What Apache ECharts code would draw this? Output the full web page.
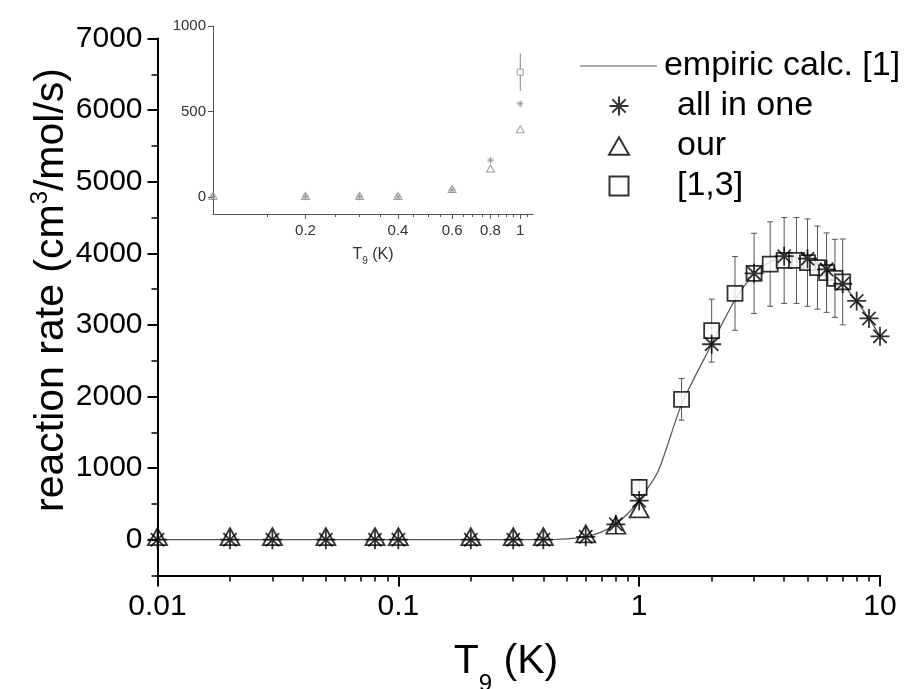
<!DOCTYPE html>
<html><head><meta charset="utf-8">
<script src="https://cdn.jsdelivr.net/npm/echarts@6/dist/echarts.min.js"></script>
<style>html,body{margin:0;padding:0;background:#fff}#c{width:911px;height:689px}</style>
</head><body><div id="c"></div>
<script>
// ---- data ----
const allInOneT = [0.01,0.02,0.03,0.05,0.08,0.1,0.2,0.3,0.4,0.6,0.8,1,2,3,4,5,6,7,8,9,10];
const allInOneV = [0,0,0,0,0,0,0,0,0,40,215,545,2730,3720,3960,3925,3775,3575,3335,3090,2840];
const ourT = [0.01,0.02,0.03,0.05,0.08,0.1,0.2,0.3,0.4,0.6,0.8,1];
const ourV = [0,0,0,0,0,0,0,0,0,40,160,390];
const refT = [1,1.5,2,2.5,3,3.5,4,4.5,5,5.5,6,6.5,7];
const refV = [730,1960,2920,3440,3720,3850,3900,3900,3870,3800,3730,3650,3600];
const refErr = [110,290,440,515,560,590,600,600,610,580,555,545,600];
const empT = [0.01,0.1,0.3,0.4,0.45,0.5,0.6,0.7,0.8,0.9,1,1.2,1.5,2,2.5,3,3.5,4,5,6,7,8,9,10];
const empV = [0,0,0,0,3,12,40,110,220,370,550,960,1890,2730,3350,3710,3880,3950,3920,3780,3570,3330,3090,2840];
const xMajorTicks = [0.01,0.1,1,10];
const xMinorMult = [2,3,4,5,6,7,8,9];
const yMajorTicks = [0,1000,2000,3000,4000,5000,6000,7000];
const yMinorTicks = [-500,500,1500,2500,3500,4500,5500,6500];
const insetXLabels = [0.2,0.4,0.6,0.8,1];
const insetXMinor = [0.15,0.25,0.3,0.35,0.45,0.5,0.55,0.65,0.7,0.75,0.85,0.9,0.95,1.05];
const insetYTicks = [0,500,1000];

const L = v => Math.log10(v);
const fmtX = v => String(Number(Math.pow(10, v).toPrecision(3)));
const fmtY = v => String(Math.round(v));
const xMinorTicks = [];
xMajorTicks.slice(0, -1).forEach(d => xMinorMult.forEach(k => xMinorTicks.push(L(d * k))));
const FONT = '"Liberation Sans", Arial, sans-serif';
const ASTER = 'path://M10,0L10,20M0,10L20,10M3,3L17,17M3,17L17,3';
const TRI = 'path://M10,0L20,17.3L0,17.3Z';
const SQ = 'path://M0,0L20,0L20,20L0,20Z';

function errRender(capW, color, lw) {
  return function (params, api) {
    const x = api.value(0), lo = api.value(1), hi = api.value(2);
    const p1 = api.coord([x, lo]), p2 = api.coord([x, hi]);
    const st = {stroke: color, lineWidth: lw};
    return {type: 'group', children: [
      {type: 'line', shape: {x1: p1[0], y1: p1[1], x2: p2[0], y2: p2[1]}, style: st},
      {type: 'line', shape: {x1: p1[0] - capW, y1: p1[1], x2: p1[0] + capW, y2: p1[1]}, style: st},
      {type: 'line', shape: {x1: p2[0] - capW, y1: p2[1], x2: p2[0] + capW, y2: p2[1]}, style: st}
    ]};
  };
}
const pairs = (T, V) => T.map((t, i) => [L(t), V[i]]);
const errData = refT.map((t, i) => [L(t), refV[i] - refErr[i], refV[i] + refErr[i]]);

const chart = echarts.init(document.getElementById('c'));
chart.setOption({
  animation: false,
  backgroundColor: '#fff',
  textStyle: {fontFamily: FONT},
  grid: [
    {left: 157.5, right: 31, top: 38.5, bottom: 113.5},
    {left: 213, right: 378, top: 26, bottom: 475}
  ],
  graphic: [{
    type: 'text', x: 52, y: 290, rotation: Math.PI / 2,
    style: {
      text: 'reaction rate (cm{sup|3}/mol/s)', fontSize: 41, fontFamily: FONT, fill: '#000',
      align: 'center', verticalAlign: 'middle', lineHeight: 48,
      rich: {sup: {fontSize: 24, fontFamily: FONT, fill: '#000', lineHeight: 25, verticalAlign: 'top'}}
    }
  }, {
    type: 'text', x: 506, y: 639,
    style: {
      text: 'T{sub|9} (K)', fontSize: 41, fontFamily: FONT, fill: '#000',
      align: 'center', verticalAlign: 'top', lineHeight: 46,
      rich: {sub: {fontSize: 24, fontFamily: FONT, fill: '#000', lineHeight: 26, padding: [33, 0, 0, 0], verticalAlign: 'top'}}
    }
  }],
  legend: [{
    data: [{name: 'empiric calc. [1]', icon: 'path://M0,0L100,0L100,1.3L0,1.3Z'}],
    orient: 'vertical', left: 575, top: 44, itemWidth: 77, itemHeight: 1, itemGap: 7,
    itemStyle: {color: '#555', borderWidth: 0},
    textStyle: {fontSize: 34, color: '#000', fontFamily: FONT, padding: [0, 0, 0, 2]}, selectedMode: false
  }, {
    data: [{name: 'all in one', icon: ASTER}, {name: 'our', icon: TRI}, {name: '[1,3]', icon: SQ}],
    orient: 'vertical', left: 603, top: 84, itemWidth: 20, itemHeight: 19, itemGap: 6,
    textStyle: {fontSize: 34, color: '#000', fontFamily: FONT, padding: [0, 0, 0, 43]}, selectedMode: false
  }],
  xAxis: [
    {gridIndex: 0, type: 'value', position: 'bottom', min: L(0.01), max: L(10), interval: 1,
      axisLine: {onZero: false, lineStyle: {color: '#000', width: 2}},
      axisTick: {length: 11, lineStyle: {color: '#000', width: 2}},
      axisLabel: {fontSize: 30, color: '#000', margin: 16, formatter: fmtX, fontFamily: FONT},
      splitLine: {show: false}
    },
    {gridIndex: 0, type: 'value', position: 'bottom', offset: 0, min: L(0.01), max: L(10),
      axisLine: {show: false, onZero: false}, axisLabel: {show: false}, splitLine: {show: false},
      axisTick: {length: 6, customValues: xMinorTicks, lineStyle: {color: '#000', width: 1.5}}
    },
    {gridIndex: 1, type: 'value', position: 'bottom', min: L(0.1), max: L(1.1),
      axisLine: {onZero: false, lineStyle: {color: '#555', width: 1}},
      axisTick: {length: 5, customValues: insetXLabels.map(L), lineStyle: {color: '#555', width: 1}},
      axisLabel: {fontSize: 15, color: '#333', margin: 9, customValues: insetXLabels.map(L), formatter: fmtX, fontFamily: FONT},
      splitLine: {show: false},
      name: 'T{sub|9} (K)', nameLocation: 'middle', nameGap: 30,
      nameTextStyle: {fontSize: 16, color: '#333', fontFamily: FONT, verticalAlign: 'top',
        rich: {sub: {fontSize: 10, fontFamily: FONT, color: '#333', padding: [12, 0, 0, 0], verticalAlign: 'top'}}}
    },
    {gridIndex: 1, type: 'value', position: 'bottom', offset: 0, min: L(0.1), max: L(1.1),
      axisLine: {show: false, onZero: false}, axisLabel: {show: false}, splitLine: {show: false},
      axisTick: {length: 3, customValues: insetXMinor.map(L), lineStyle: {color: '#555', width: 1}}
    }
  ],
  yAxis: [
    {gridIndex: 0, type: 'value', position: 'left', min: -500, max: 7000,
      axisLine: {show: true, onZero: false, lineStyle: {color: '#000', width: 2}},
      axisTick: {show: true, length: 10, customValues: yMajorTicks, lineStyle: {color: '#000', width: 2}},
      axisLabel: {fontSize: 30, color: '#000', margin: 15, customValues: yMajorTicks, formatter: fmtY, fontFamily: FONT},
      splitLine: {show: false}
    },
    {gridIndex: 0, type: 'value', position: 'left', offset: 0, min: -500, max: 7000,
      axisLine: {show: false, onZero: false}, axisLabel: {show: false}, splitLine: {show: false},
      axisTick: {show: true, length: 6, customValues: yMinorTicks, lineStyle: {color: '#000', width: 1.5}}
    },
    {gridIndex: 1, type: 'value', position: 'left', min: -100, max: 1000,
      axisLine: {show: true, onZero: false, lineStyle: {color: '#555', width: 1}},
      axisTick: {show: true, length: 5, customValues: insetYTicks, lineStyle: {color: '#555', width: 1}},
      axisLabel: {fontSize: 15, color: '#333', margin: 7, customValues: insetYTicks, formatter: fmtY, fontFamily: FONT},
      splitLine: {show: false}
    }
  ],
  series: [
    {name: 'empiric calc. [1]', type: 'line', xAxisIndex: 0, yAxisIndex: 0, data: pairs(empT, empV),
      symbol: 'none', smooth: 0.25, lineStyle: {color: '#555', width: 1.2}, itemStyle: {color: '#555'}, z: 1},
    {name: 'err-main', type: 'custom', xAxisIndex: 0, yAxisIndex: 0, data: errData, clip: true,
      encode: {x: 0, y: [1, 2]}, renderItem: errRender(3, '#555', 1), z: 2},
    {name: '[1,3]', type: 'scatter', xAxisIndex: 0, yAxisIndex: 0, data: pairs(refT, refV),
      symbol: 'rect', symbolSize: 15, itemStyle: {color: '#fff', borderColor: '#000', borderWidth: 1.8}, z: 3},
    {name: 'our', type: 'scatter', xAxisIndex: 0, yAxisIndex: 0, data: pairs(ourT, ourV),
      symbol: 'triangle', symbolSize: [19, 17], symbolOffset: [0, -3],
      itemStyle: {color: 'rgba(255,255,255,0)', borderColor: '#000', borderWidth: 1.8}, z: 4},
    {name: 'all in one', type: 'scatter', xAxisIndex: 0, yAxisIndex: 0, data: pairs(allInOneT, allInOneV),
      symbol: ASTER, symbolSize: 19,
      itemStyle: {color: 'rgba(255,255,255,0)', borderColor: '#000', borderWidth: 1.8}, z: 5},
    // inset
    {name: 'err-inset', type: 'custom', xAxisIndex: 2, yAxisIndex: 2, data: errData, clip: true,
      encode: {x: 0, y: [1, 2]}, renderItem: errRender(0, '#888', 1), z: 2},
    {name: 'inset-ref', type: 'scatter', xAxisIndex: 2, yAxisIndex: 2, data: pairs(refT, refV),
      symbol: 'rect', symbolSize: 6, itemStyle: {color: '#fff', borderColor: '#888', borderWidth: 1}, z: 3},
    {name: 'inset-our', type: 'scatter', xAxisIndex: 2, yAxisIndex: 2, data: pairs(ourT, ourV),
      symbol: 'triangle', symbolSize: [8, 7], symbolOffset: [0, -1],
      itemStyle: {color: 'rgba(255,255,255,0)', borderColor: '#888', borderWidth: 1}, z: 4},
    {name: 'inset-all', type: 'scatter', xAxisIndex: 2, yAxisIndex: 2, data: pairs(allInOneT, allInOneV),
      symbol: ASTER, symbolSize: 7,
      itemStyle: {color: 'rgba(255,255,255,0)', borderColor: '#888', borderWidth: 1}, z: 5}
  ]
});
</script>
</body></html>
